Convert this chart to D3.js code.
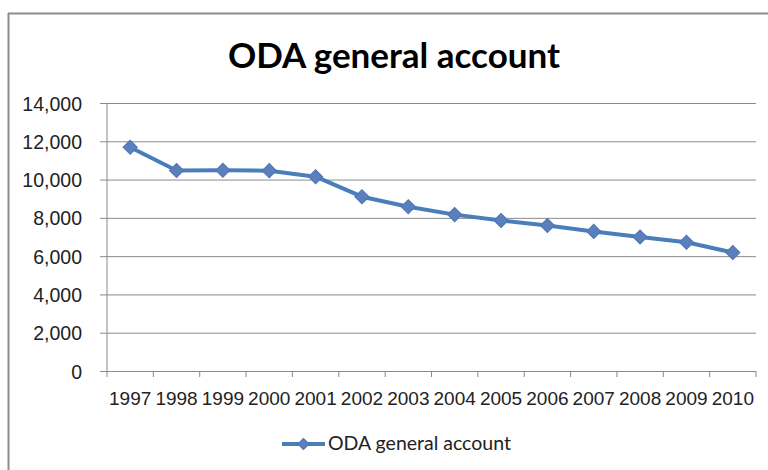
<!DOCTYPE html>
<html>
<head>
<meta charset="utf-8">
<script src="https://cdn.jsdelivr.net/npm/d3@7"></script>
<style>
  html, body { margin: 0; padding: 0; background: #ffffff; }
  svg { display: block; font-family: Lato, "Open Sans", sans-serif; }
</style>
</head>
<body>
<svg id="chart" width="768" height="470"></svg>
<script>
// ODA general account budget by fiscal year
const years = ["1997","1998","1999","2000","2001","2002","2003","2004","2005","2006","2007","2008","2009","2010"];
const values = [11687, 10473, 10489, 10466, 10152, 9106, 8578, 8169, 7862, 7597, 7293, 7002, 6722, 6187];
const yTicks = [0, 2000, 4000, 6000, 8000, 10000, 12000, 14000];
const seriesName = "ODA general account";
const titleText = "ODA general account";

const svg = d3.select("#chart");
const W = 768, H = 470;
const plot = { left: 107, right: 756, top: 103, bottom: 371 };
const lineColor = "#4a7ebb";
const markerColor = "#5a7fbf";
const gridColor = "#8a8a8a";

svg.append("rect").attr("width", W).attr("height", H).attr("fill", "#fff");

// outer frame
svg.append("line").attr("x1", 8).attr("x2", W).attr("y1", 13.5).attr("y2", 13.5)
  .attr("stroke", "#8c8c8c").attr("stroke-width", 2);
svg.append("line").attr("x1", 8.5).attr("x2", 8.5).attr("y1", 13).attr("y2", H)
  .attr("stroke", "#8c8c8c").attr("stroke-width", 2);

const x = d3.scaleBand().domain(years).range([plot.left, plot.right]);
const y = d3.scaleLinear().domain([0, 14000]).range([plot.bottom, plot.top]);

// horizontal gridlines
const yAxis = d3.axisLeft(y).tickValues(yTicks).tickFormat(d3.format(",")).tickSize(-(plot.right - plot.left)).tickPadding(0);
const gy = svg.append("g").attr("transform", `translate(${plot.left},0)`).call(yAxis);
gy.select(".domain").remove();
gy.selectAll(".tick line").attr("stroke", gridColor).attr("stroke-width", 1)
  .attr("x1", -7);
gy.selectAll(".tick text").attr("x", -25).attr("dy", "0.36em")
  .attr("font-size", 19.5).attr("fill", "#222").attr("text-anchor", "end");

// vertical axis line
svg.append("line").attr("x1", plot.left).attr("x2", plot.left)
  .attr("y1", plot.top).attr("y2", plot.bottom).attr("stroke", gridColor);

// category axis with boundary ticks
const gx = svg.append("g").attr("transform", `translate(0,${plot.bottom})`)
  .call(d3.axisBottom(x).tickSize(0).tickPadding(0));
gx.select(".domain").attr("stroke", gridColor).attr("d", `M${plot.left},0.5H${plot.right}`);
gx.selectAll(".tick text").attr("y", 34).attr("dy", 0)
  .attr("font-size", 19).attr("fill", "#222");
const edges = years.map(d => x(d)).concat([x.range()[1]]);
gx.selectAll(".edge").data(edges).enter().append("line")
  .attr("x1", d => d).attr("x2", d => d).attr("y1", 0).attr("y2", 6)
  .attr("stroke", gridColor);

// series
const cx = d => x(d) + x.bandwidth() / 2;
const line = d3.line().x((d, i) => cx(years[i])).y(d => y(d));
svg.append("path").datum(values).attr("d", line)
  .attr("fill", "none").attr("stroke", lineColor).attr("stroke-width", 4)
  .attr("stroke-linejoin", "round");

const diamond = d3.symbol().type(d3.symbolSquare).size(100)();
svg.selectAll(".pt").data(values).enter().append("path")
  .attr("d", diamond)
  .attr("transform", (d, i) => `translate(${cx(years[i])},${y(d)}) rotate(45)`)
  .attr("fill", markerColor).attr("stroke", "#4f74b0").attr("stroke-width", 1);

// title
svg.append("text").attr("x", 394).attr("y", 68).attr("text-anchor", "middle")
  .attr("font-size", 35).attr("font-weight", "bold").attr("fill", "#000")
  .text(titleText);

// legend
const lg = svg.append("g");
lg.append("line").attr("x1", 282).attr("x2", 325).attr("y1", 444).attr("y2", 444)
  .attr("stroke", lineColor).attr("stroke-width", 4);
lg.append("path").attr("d", d3.symbol().type(d3.symbolSquare).size(64)())
  .attr("transform", "translate(303.5,444) rotate(45)")
  .attr("fill", markerColor).attr("stroke", "#4f74b0");
lg.append("text").attr("x", 328).attr("y", 450).attr("font-size", 19.5).attr("fill", "#222")
  .text(seriesName);
</script>
</body>
</html>
